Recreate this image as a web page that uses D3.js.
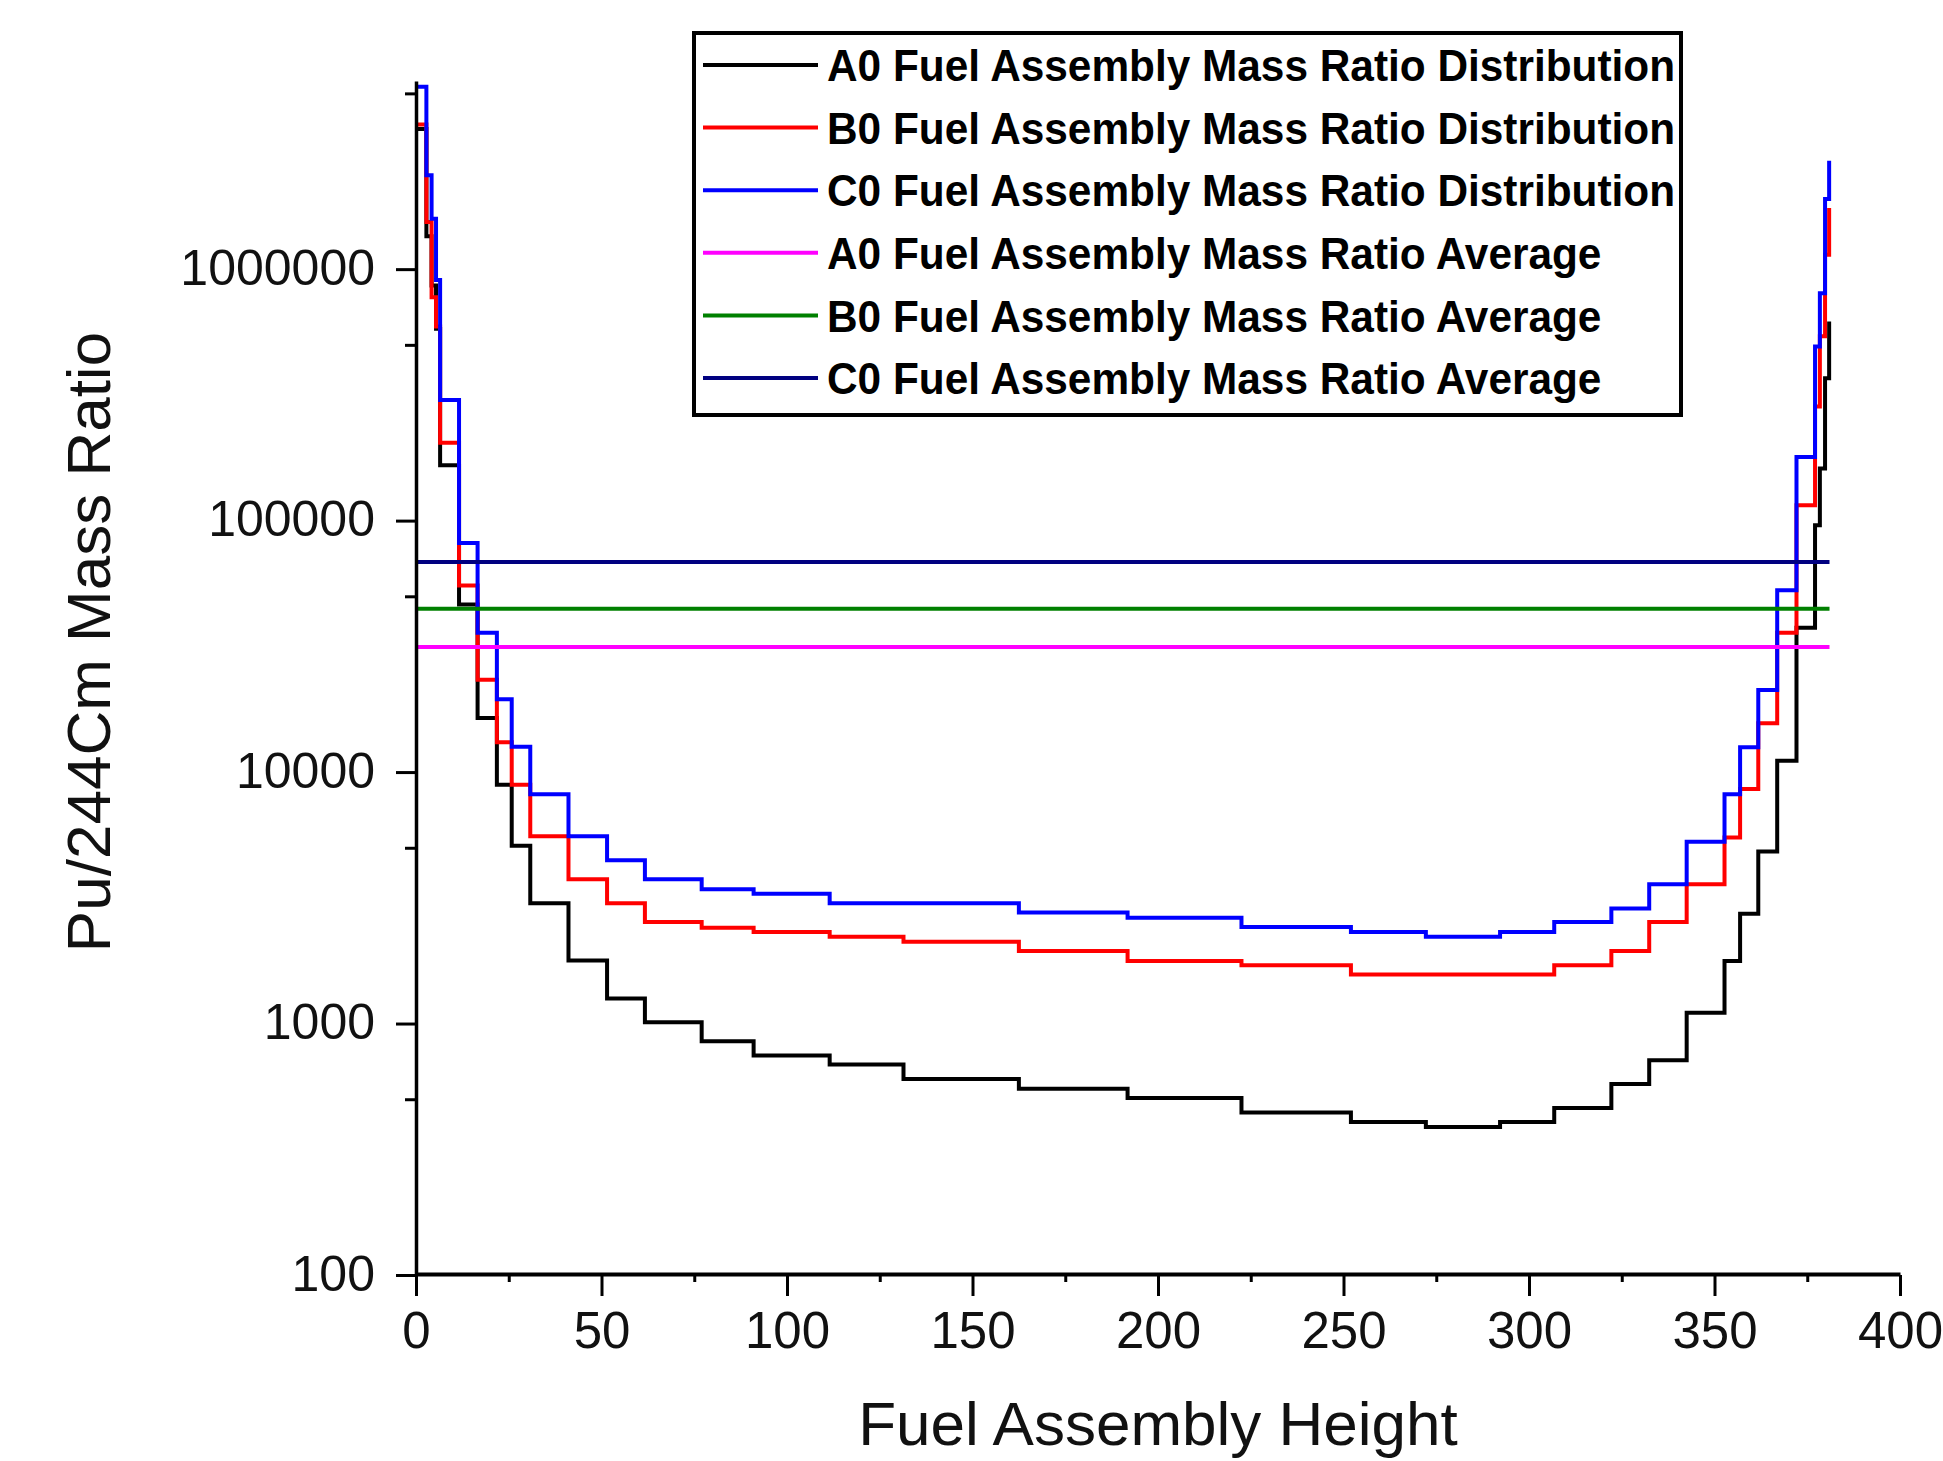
<!DOCTYPE html>
<html><head><meta charset="utf-8">
<script src="https://cdn.jsdelivr.net/npm/d3@7"></script>
<style>
html,body{margin:0;padding:0;background:#fff;}
svg{display:block;}
</style></head>
<body>
<svg id="chart" width="1943" height="1461"></svg>
<script>
// ---------- data ----------
const heights = [0, 2.8, 4.2, 5.4, 6.5, 11.6, 16.6, 21.8, 25.8, 30.8, 41.1, 51.5, 61.7, 77.0, 91.0, 111.5, 131.4, 162.5, 191.8, 222.5, 252.0, 272.2, 292.2, 306.8, 322.2, 332.4, 342.5, 352.7, 356.9, 361.8, 366.9, 372.1, 377.1, 378.4, 379.8, 380.9];
const a0Distribution = [3610000, 1350000, 860000, 580000, 166000, 46400, 16400, 8900, 5090, 3010, 1783, 1258, 1012, 851, 746, 687, 602, 551, 506, 443, 406, 388, 406, 461, 575, 714, 1103, 1771, 2735, 4830, 11090, 37500, 95800, 161000, 368000, 619000];
const b0Distribution = [3760000, 1540000, 773000, 591000, 204000, 55200, 23300, 13130, 8900, 5560, 3750, 3010, 2533, 2405, 2311, 2214, 2115, 1941, 1771, 1707, 1567, 1567, 1567, 1707, 1941, 2533, 3580, 5495, 8560, 15630, 35800, 115000, 284000, 541000, 1140000, 1750000];
const c0Distribution = [5310000, 2360000, 1585000, 906000, 302000, 81500, 35800, 19500, 12600, 8170, 5560, 4460, 3750, 3420, 3285, 3010, 3010, 2761, 2637, 2421, 2311, 2214, 2311, 2533, 2870, 3580, 5280, 8170, 12540, 21200, 52800, 179000, 492000, 802000, 1900000, 2700000];
const averageSpan = [0, 381];
const a0Average = [31400, 31400];
const b0Average = [44600, 44600];
const c0Average = [68400, 68400];
const legendLabels = [
  "A0 Fuel Assembly Mass Ratio Distribution",
  "B0 Fuel Assembly Mass Ratio Distribution",
  "C0 Fuel Assembly Mass Ratio Distribution",
  "A0 Fuel Assembly Mass Ratio Average",
  "B0 Fuel Assembly Mass Ratio Average",
  "C0 Fuel Assembly Mass Ratio Average"
];
const xTicks = [0, 50, 100, 150, 200, 250, 300, 350, 400];
const xMinorTicks = [25, 75, 125, 175, 225, 275, 325, 375];
const yTicks = [100, 1000, 10000, 100000, 1000000];
const yMinorTicks = [500, 5000, 50000, 500000, 5000000];
const xTitle = "Fuel Assembly Height";
const yTitle = "Pu/244Cm Mass Ratio";

// ---------- layout ----------
const svg = d3.select("#chart");
const FONT = "'Liberation Sans', Arial, sans-serif";
const x = d3.scaleLinear().domain([0, 400]).range([416, 1900]);
const y = d3.scaleLog().domain([100, 5600000]).range([1275, 81]);

const distSeries = [
  {values: a0Distribution, color: "#000000"},
  {values: b0Distribution, color: "#ff0000"},
  {values: c0Distribution, color: "#0000ff"}
];
const avgSeries = [
  {values: a0Average, color: "#ff00ff"},
  {values: b0Average, color: "#008000"},
  {values: c0Average, color: "#000080"}
];

const stepLine = d3.line().x(d => x(d[0])).y(d => y(d[1])).curve(d3.curveStepAfter);
const straight = d3.line().x(d => x(d[0])).y(d => y(d[1]));

const plot = svg.append("g");
distSeries.forEach(s => {
  plot.append("path")
    .datum(heights.map((h, i) => [h, s.values[i]]))
    .attr("d", stepLine)
    .attr("fill", "none").attr("stroke", s.color)
    .attr("stroke-width", 4).attr("stroke-linejoin", "miter");
});
avgSeries.forEach(s => {
  plot.append("path")
    .datum(averageSpan.map((h, i) => [h, s.values[i]]))
    .attr("d", straight)
    .attr("fill", "none").attr("stroke", s.color)
    .attr("stroke-width", 4);
});

// ---------- axes ----------
const xAxisMinor = svg.append("g").attr("transform", "translate(0,1275)")
  .call(d3.axisBottom(x).tickValues(xMinorTicks).tickSize(7).tickFormat(""));
xAxisMinor.select(".domain").remove();
xAxisMinor.selectAll("line").attr("stroke-width", 3);

const xAxis = svg.append("g").attr("transform", "translate(0,1275)")
  .call(d3.axisBottom(x).tickValues(xTicks).tickSize(21).tickSizeOuter(0).tickFormat(d3.format("d")));
xAxis.select(".domain").attr("stroke-width", 4).attr("transform", "translate(0,-1)");
xAxis.selectAll("line").attr("stroke-width", 3);
xAxis.selectAll("text").attr("y", 73).attr("dy", 0)
  .attr("font-family", FONT).attr("font-size", 51).attr("fill", "#111");

const yAxisMinor = svg.append("g").attr("transform", "translate(416,0)")
  .call(d3.axisLeft(y).tickValues(yMinorTicks).tickSize(11).tickFormat(""));
yAxisMinor.select(".domain").remove();
yAxisMinor.selectAll("line").attr("stroke-width", 3);

const yAxis = svg.append("g").attr("transform", "translate(416,0)")
  .call(d3.axisLeft(y).tickValues(yTicks).tickSize(20).tickPadding(21).tickSizeOuter(0).tickFormat(d3.format("d")));
yAxis.select(".domain").attr("stroke-width", 3.5);
yAxis.selectAll("line").attr("stroke-width", 3);
yAxis.selectAll("text").attr("dy", "0.3em")
  .attr("font-family", FONT).attr("font-size", 50).attr("fill", "#111");

// axis titles
svg.append("text")
  .attr("x", 1158).attr("y", 1445)
  .attr("text-anchor", "middle")
  .attr("font-family", FONT).attr("font-size", 62).attr("fill", "#111")
  .text(xTitle);
svg.append("text")
  .attr("transform", "translate(110,642) rotate(-90)")
  .attr("text-anchor", "middle")
  .attr("font-family", FONT).attr("font-size", 62).attr("fill", "#111")
  .text(yTitle);

// ---------- legend ----------
const legend = svg.append("g");
legend.append("rect")
  .attr("x", 694).attr("y", 33).attr("width", 987).attr("height", 382)
  .attr("fill", "#fff").attr("stroke", "#000").attr("stroke-width", 4);
const legendColors = distSeries.map(s => s.color).concat(avgSeries.map(s => s.color));
const rowY = d3.scaleLinear().domain([0, 5]).range([65, 378]);
const texts = [];
legendLabels.forEach((lab, i) => {
  legend.append("line")
    .attr("x1", 703).attr("x2", 818)
    .attr("y1", rowY(i)).attr("y2", rowY(i))
    .attr("stroke", legendColors[i]).attr("stroke-width", 4);
  texts.push(legend.append("text")
    .attr("x", 827).attr("y", rowY(i)).attr("dy", "0.36em")
    .attr("font-family", FONT).attr("font-weight", "bold").attr("font-size", 45)
    .attr("fill", "#000")
    .text(lab));
});
const w0 = texts[0].node().getComputedTextLength();
const k = 848 / w0;
texts.forEach(t => {
  const w = t.node().getComputedTextLength();
  t.attr("textLength", w * k).attr("lengthAdjust", "spacingAndGlyphs");
});
</script>
</body></html>
